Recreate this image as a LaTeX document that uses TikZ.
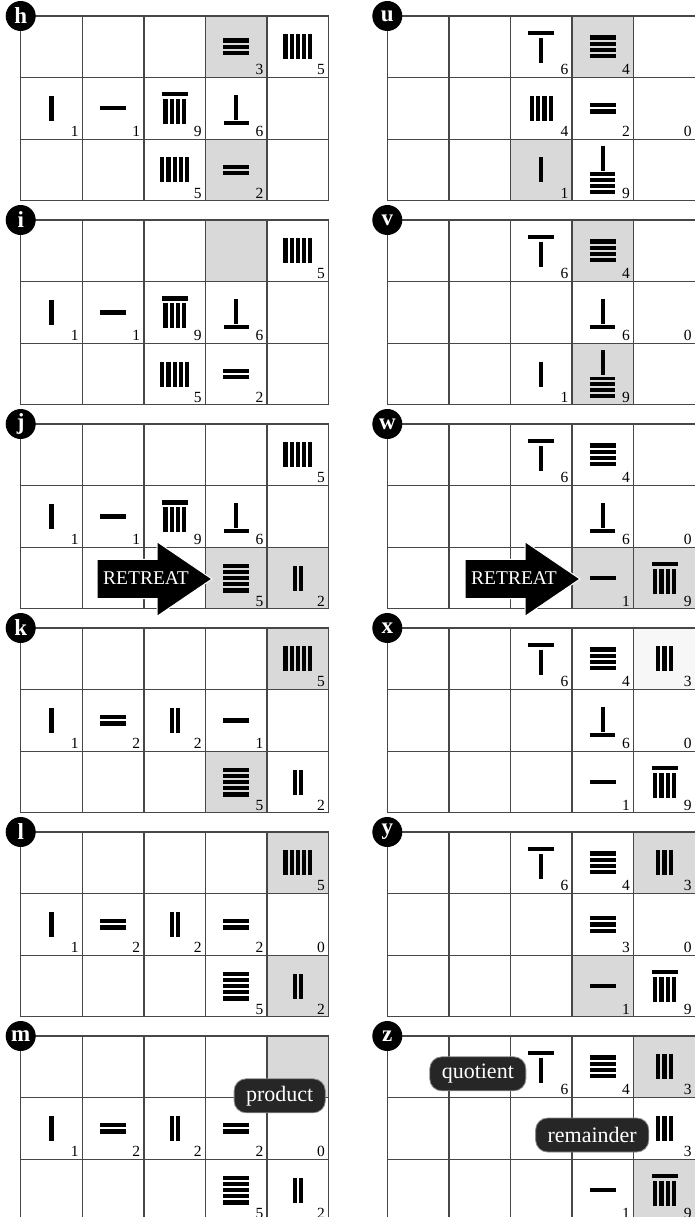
\documentclass[tikz,border=0pt]{standalone}
\usepackage{fontspec}
\setmainfont{Liberation Serif}
\usepackage{tikz}
\usepackage{xcolor}

\definecolor{cellgray}{RGB}{217,217,217}
\definecolor{cellfaint}{RGB}{247,247,247}
\definecolor{tagfill}{RGB}{38,38,38}
\def\cw{61.6}

% rod numeral, vertical form, centred on (0,0)
\newcommand{\zong}[1]{%
  \ifnum#1<6
    \foreach \k in {1,...,#1}
      \fill ({(\k-1-(#1-1)/2)*6.2-2.1},-12.5) rectangle ++(4.2,25);
  \else
    \pgfmathtruncatemacro\nb{#1-5}
    \fill (-13,-16.1) rectangle (13,-11.9);
    \foreach \k in {1,...,\nb}
      \fill ({(\k-1-(\nb-1)/2)*6.2-2.1},-9) rectangle ++(4.2,25);
  \fi}

% rod numeral, horizontal form
\newcommand{\heng}[1]{%
  \ifnum#1<6
    \foreach \k in {1,...,#1}
      \fill (-13,{(\k-1-(#1-1)/2)*6.2-2.1}) rectangle ++(26,4.2);
  \else
    \pgfmathtruncatemacro\nb{#1-5}
    \pgfmathsetmacro\ya{-13.5-(\nb-1)*3.5}
    \fill (-2.1,\ya) rectangle ++(4.2,25);
    \foreach \k in {1,...,\nb}
      \fill (-12.5,{\ya+26.5+(\k-1)*5.8}) rectangle ++(25,3.8);
  \fi}

% one board: name, left, top, shaded cells, rods
\newcommand{\panel}[5]{%
  \begin{scope}[shift={(#2,#3)}]
    \foreach \c/\r/\col in {#4}
      \fill[\col] ({(\c-1)*\cw},{(\r-1)*\cw}) rectangle ++(\cw,\cw);
    \foreach \i in {0,...,5} \draw[gridline] (\i*\cw,0) -- (\i*\cw,3*\cw);
    \foreach \j in {0,...,3} \draw[gridline] (0,\j*\cw) -- (5*\cw,\j*\cw);
    \foreach \c/\r/\f/\n in {#5} {
      \begin{scope}[shift={({(\c-0.5)*\cw},{(\r-0.5)*\cw})}]
        \if\f V\zong{\n}\fi
        \if\f H\heng{\n}\fi
      \end{scope}
      \node[digit] (#1-\c-\r) at ({\c*\cw-3.6},{\r*\cw-2.7}) {\n};
    }
    \node[badge] (badge-#1) at (0,0) {#1};
  \end{scope}}

\begin{document}
\begin{tikzpicture}[x=1pt,y=-1pt,
    gridline/.style={draw=black!72,line width=1.25},
    digit/.style={anchor=base east,inner sep=0,font=\fontsize{15.5}{15.5}\selectfont},
    badge/.style={circle,fill=black,text=white,minimum size=30,inner sep=0,
      font=\fontsize{23}{23}\selectfont\bfseries},
    tag/.style={rounded corners=12,fill=tagfill,draw=black!45,line width=0.8,
      text=white,minimum height=34,inner xsep=12,font=\fontsize{22}{22}\selectfont},
    retreat/.style={fill=black,draw=white,line width=1},
    retreattext/.style={text=white,inner sep=0,font=\fontsize{19.5}{19.5}\selectfont}]
    \useasboundingbox (0,0) rectangle (695,1217);
    \clip (0,0) rectangle (695,1217);

    % left column
    \panel{h}{20.7}{16}{4/1/cellgray,4/3/cellgray}{4/1/H/3,5/1/V/5,1/2/V/1,2/2/H/1,3/2/V/9,4/2/H/6,3/3/V/5,4/3/H/2}
    \panel{i}{20.7}{220}{4/1/cellgray}{5/1/V/5,1/2/V/1,2/2/H/1,3/2/V/9,4/2/H/6,3/3/V/5,4/3/H/2}
    \panel{j}{20.7}{424}{4/3/cellgray,5/3/cellgray}{5/1/V/5,1/2/V/1,2/2/H/1,3/2/V/9,4/2/H/6,4/3/H/5,5/3/V/2}
    \panel{k}{20.7}{628}{5/1/cellgray,4/3/cellgray}{5/1/V/5,1/2/V/1,2/2/H/2,3/2/V/2,4/2/H/1,4/3/H/5,5/3/V/2}
    \panel{l}{20.7}{832}{5/1/cellgray,5/3/cellgray}{5/1/V/5,1/2/V/1,2/2/H/2,3/2/V/2,4/2/H/2,5/2/N/0,4/3/H/5,5/3/V/2}
    \panel{m}{20.7}{1036}{5/1/cellgray}{1/2/V/1,2/2/H/2,3/2/V/2,4/2/H/2,5/2/N/0,4/3/H/5,5/3/V/2}

    % right column
    \panel{u}{387.3}{16}{4/1/cellgray,3/3/cellgray}{3/1/V/6,4/1/H/4,3/2/V/4,4/2/H/2,5/2/N/0,3/3/V/1,4/3/H/9}
    \panel{v}{387.3}{220}{4/1/cellgray,4/3/cellgray}{3/1/V/6,4/1/H/4,4/2/H/6,5/2/N/0,3/3/V/1,4/3/H/9}
    \panel{w}{387.3}{424}{4/3/cellgray,5/3/cellgray}{3/1/V/6,4/1/H/4,4/2/H/6,5/2/N/0,4/3/H/1,5/3/V/9}
    \panel{x}{387.3}{628}{5/1/cellfaint}{3/1/V/6,4/1/H/4,5/1/V/3,4/2/H/6,5/2/N/0,4/3/H/1,5/3/V/9}
    \panel{y}{387.3}{832}{5/1/cellgray,4/3/cellgray}{3/1/V/6,4/1/H/4,5/1/V/3,4/2/H/3,5/2/N/0,4/3/H/1,5/3/V/9}
    \panel{z}{387.3}{1036}{5/1/cellgray,5/3/cellgray}{3/1/V/6,4/1/H/4,5/1/V/3,5/2/V/3,4/3/H/1,5/3/V/9}

    % retreat arrows
    \fill[retreat] (97,559.3) -- ++(60,0) -- ++(0,-17.6) -- ++(55,37.3) -- ++(-55,37.3) -- ++(0,-17.6) -- ++(-60,0) -- cycle;
    \node[retreattext] (retreat-j) at (146,578.5) {RETREAT};
    \fill[retreat] (465,559.3) -- ++(60,0) -- ++(0,-17.6) -- ++(55,37.3) -- ++(-55,37.3) -- ++(0,-17.6) -- ++(-60,0) -- cycle;
    \node[retreattext] (retreat-w) at (514,578.5) {RETREAT};

    % labels
    \node[tag] (product) at (279.7,1095.8) {product};
    \node[tag] (quotient) at (477.8,1073.8) {quotient};
    \node[tag] (remainder) at (592.2,1135) {remainder};
\end{tikzpicture}
\end{document}
